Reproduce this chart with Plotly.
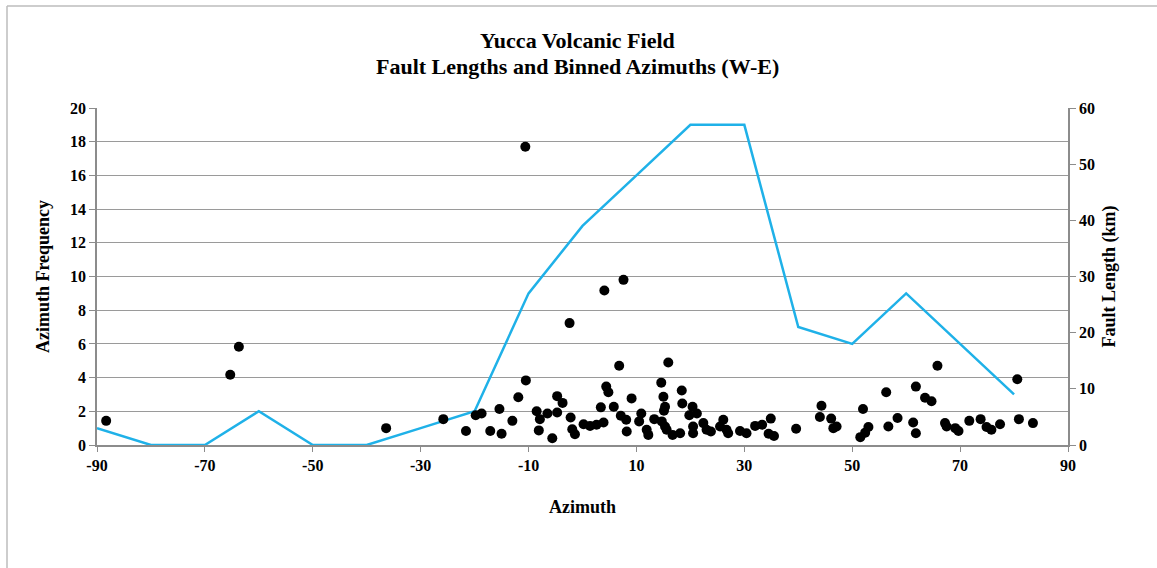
import plotly.graph_objects as go

# Binned azimuth frequency (left axis)
bin_azimuth = [-90, -80, -70, -60, -50, -40, -30, -20, -10, 0, 10, 20, 30, 40, 50, 60, 70, 80]
bin_frequency = [1, 0, 0, 2, 0, 0, 1, 2, 9, 13, 16, 19, 19, 7, 6, 9, 6, 3]

# Individual faults: azimuth (deg) and length (km) (right axis)
fault_azimuth = [
    -88.3, -65.3, -63.7, -36.4, -25.8, -21.6, -19.8, -18.7, -17.1, -15.4,
    -15.0, -13.0, -11.9, -10.5, -10.6, -8.5, -7.9, -8.1, -6.5, -5.6,
    -4.7, -3.7, -4.7, -2.4, -2.2, -1.9, -1.4, 0.2, 1.4, 2.6,
    3.9, 3.4, 4.05, 4.4, 4.8, 5.8, 7.1, 7.6, 6.8, 8.1,
    8.2, 9.1, 10.5, 10.9, 11.9, 12.2, 13.3, 14.6, 15.0, 15.3,
    15.1, 14.7, 15.3, 15.6, 15.9, 16.7, 18.1, 18.4, 18.5, 19.8,
    20.4, 21.2, 20.5, 20.5, 22.4, 23.0, 23.8, 25.5, 26.1, 26.7,
    27.0, 29.2, 30.4, 32.0, 33.3, 34.9, 34.5, 35.5, 39.6, 44.3,
    44.0, 46.1, 46.5, 47.1, 51.5, 52.0, 52.4, 53.0, 56.3, 56.7,
    58.4, 61.8, 61.3, 61.8, 63.5, 64.7, 65.8, 67.2, 67.5, 69.1,
    69.7, 71.7, 73.8, 74.9, 75.8, 77.4, 80.6, 80.9, 83.5,
]
fault_length = [
    4.3, 12.5, 17.5, 3.0, 4.6, 2.5, 5.3, 5.6, 2.5, 6.4,
    2.0, 4.3, 8.5, 11.5, 53.1, 6.0, 4.6, 2.6, 5.6, 1.2,
    8.7, 7.5, 5.8, 21.7, 4.9, 2.8, 1.9, 3.7, 3.4, 3.6,
    4.0, 6.7, 27.5, 10.4, 9.4, 6.8, 5.2, 29.4, 14.1, 4.5,
    2.4, 8.3, 4.2, 5.6, 2.7, 1.8, 4.6, 11.1, 8.6, 6.8,
    6.1, 4.2, 3.3, 2.7, 14.7, 1.8, 2.1, 9.7, 7.4, 5.3,
    6.8, 5.6, 3.3, 2.1, 3.9, 2.7, 2.4, 3.3, 4.5, 2.7,
    2.1, 2.5, 2.1, 3.4, 3.6, 4.7, 2.0, 1.6, 2.9, 7.0,
    5.0, 4.7, 3.0, 3.3, 1.4, 6.4, 2.2, 3.2, 9.4, 3.3,
    4.8, 10.4, 4.0, 2.1, 8.4, 7.8, 14.1, 3.9, 3.3, 3.0,
    2.5, 4.3, 4.6, 3.2, 2.7, 3.7, 11.7, 4.6, 3.9,
]

x_ticks = [-90, -70, -50, -30, -10, 10, 30, 50, 70, 90]
title_lines = ["Yucca Volcanic Field", "Fault Lengths and Binned Azimuths (W-E)"]

FONT = "Liberation Serif"
AXIS_COLOR = "#8c8c8c"

# plot-area geometry in pixels (used only for placing title/border in paper units)
W, H = 1157, 568
L, R, T, B = 97, 89, 108, 123
PW, PH = W - L - R, H - T - B


def px_to_paper_y(py):
    return 1 + (T - py) / PH


def px_to_paper_x(px):
    return (px - L) / PW


fig = go.Figure()
fig.add_trace(go.Scatter(
    x=bin_azimuth, y=bin_frequency, mode="lines",
    line=dict(color="#1fb1e8", width=2.5),
    yaxis="y", showlegend=False, hoverinfo="x+y",
))
fig.add_trace(go.Scatter(
    x=fault_azimuth, y=fault_length, mode="markers",
    marker=dict(color="black", size=10, line=dict(width=0)),
    yaxis="y2", showlegend=False,
))

fig.update_layout(
    width=W, height=H,
    margin=dict(l=L, r=R, t=T, b=B),
    paper_bgcolor="white", plot_bgcolor="white",
    font=dict(family=FONT, color="black", size=16),
    xaxis=dict(
        range=[-90, 90], tickvals=x_ticks,
        ticktext=[f"<b>{v}</b>" for v in x_ticks],
        showgrid=False, zeroline=False,
        showline=True, linecolor=AXIS_COLOR, linewidth=1.5,
        ticks="outside", ticklen=5, tickcolor=AXIS_COLOR,
        title=dict(text="<b>Azimuth</b>", font=dict(size=18), standoff=27),
        tickfont=dict(size=16),
    ),
    yaxis=dict(
        range=[0, 20], tickvals=list(range(0, 21, 2)),
        ticktext=[f"<b>{v}</b>" for v in range(0, 21, 2)],
        showgrid=True, gridcolor="#9a9a9a", gridwidth=1.2,
        zeroline=False,
        showline=True, linecolor=AXIS_COLOR, linewidth=1.5,
        ticks="outside", ticklen=6, tickcolor=AXIS_COLOR,
        title=dict(text="<b>Azimuth Frequency</b>", font=dict(size=18), standoff=16),
        tickfont=dict(size=16),
    ),
    yaxis2=dict(
        range=[0, 60], tickvals=list(range(0, 61, 10)),
        ticktext=[f"<b>{v}</b>" for v in range(0, 61, 10)],
        overlaying="y", side="right",
        showgrid=False, zeroline=False,
        showline=True, linecolor=AXIS_COLOR, linewidth=1.5,
        ticks="outside", ticklen=6, tickcolor=AXIS_COLOR,
        title=dict(text="<b>Fault Length (km)</b>", font=dict(size=18), standoff=8),
        tickfont=dict(size=16),
    ),
    annotations=[
        dict(text=f"<b>{title_lines[0]}</b>", xref="paper", yref="paper",
             x=px_to_paper_x(577), y=px_to_paper_y(41), xanchor="center", yanchor="middle",
             showarrow=False, font=dict(family=FONT, size=22, color="black")),
        dict(text=f"<b>{title_lines[1]}</b>", xref="paper", yref="paper",
             x=px_to_paper_x(577), y=px_to_paper_y(67), xanchor="center", yanchor="middle",
             showarrow=False, font=dict(family=FONT, size=22, color="black")),
    ],
    shapes=[
        dict(type="line", xref="paper", yref="paper",
             x0=px_to_paper_x(7), x1=px_to_paper_x(W),
             y0=px_to_paper_y(6), y1=px_to_paper_y(6),
             line=dict(color="#bdbdbd", width=1.5)),
        dict(type="line", xref="paper", yref="paper",
             x0=px_to_paper_x(7), x1=px_to_paper_x(7),
             y0=px_to_paper_y(6), y1=px_to_paper_y(H),
             line=dict(color="#bdbdbd", width=1.5)),
    ],
)

fig.write_html("out.html")
